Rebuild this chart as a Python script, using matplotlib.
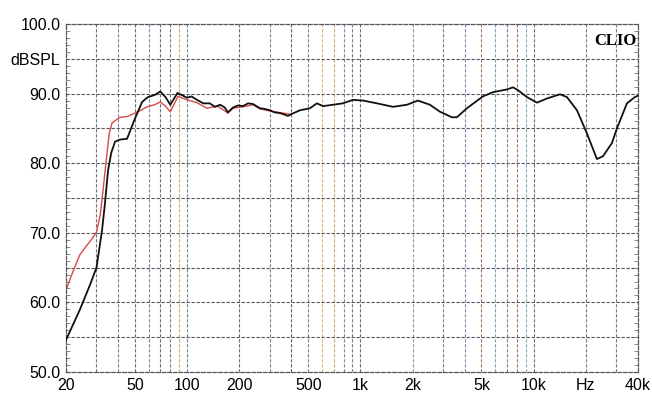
import matplotlib.pyplot as plt
import numpy as np

# black trace (frequency Hz, dBSPL)
black_f = [20, 24, 27.5, 30, 32.3, 33.5, 35, 36.5, 38.4, 41, 45, 50, 55, 59.4, 65, 70, 75,
           80, 88, 100, 106, 114, 124, 135, 145, 155, 165, 172, 184, 197, 210, 225, 240,
           263, 280, 301, 320, 344, 382, 403, 448, 512, 561, 608, 695, 793, 906, 1035,
           1247, 1542, 1858, 2148, 2518, 2878, 3374, 3606, 4120, 5098, 5821, 7012, 7592,
           8112, 9141, 10448, 11940, 14192, 15560, 17780, 20280, 23180, 25120, 28300,
           30240, 34540, 38380, 40000]
black_db = [54.6, 58.9, 62.5, 65.0, 70.4, 74.0, 79.0, 81.5, 83.1, 83.4, 83.5, 86.4, 88.8,
            89.5, 89.8, 90.3, 89.5, 88.4, 90.1, 89.4, 89.6, 89.1, 88.6, 88.6, 88.1, 88.4,
            88.0, 87.3, 88.0, 88.3, 88.2, 88.6, 88.5, 87.9, 87.8, 87.6, 87.3, 87.2, 86.8,
            87.1, 87.6, 87.9, 88.6, 88.2, 88.4, 88.6, 89.1, 89.0, 88.6, 88.1, 88.4, 89.0,
            88.4, 87.4, 86.6, 86.6, 87.9, 89.6, 90.2, 90.6, 90.9, 90.5, 89.5, 88.7, 89.3,
            89.9, 89.5, 87.6, 84.3, 80.6, 81.0, 82.9, 85.0, 88.6, 89.5, 89.7]

# red trace, visible only below ~400 Hz (hidden under black above)
red_f = [20, 22, 24, 26, 28, 30, 31.5, 32.7, 34, 35.5, 36.9, 41, 45, 50, 55, 58.7, 65,
         70, 75, 80, 88.6, 100, 114, 130, 150, 172, 184, 210, 240, 263, 301, 400]
red_db = [61.8, 64.5, 66.8, 68.0, 69.0, 70.1, 72.5, 76.0, 80.0, 84.2, 85.8, 86.6, 86.7,
          87.2, 87.7, 88.1, 88.4, 88.8, 88.2, 87.4, 89.6, 89.1, 88.7, 87.9, 88.2, 87.2,
          87.9, 88.1, 88.4, 87.8, 87.5, 87.0]

xtick_vals = [20, 50, 100, 200, 500, 1000, 2000, 5000, 10000, 20000, 40000]
xtick_text = ['20', '50', '100', '200', '500', '1k', '2k', '5k', '10k', 'Hz', '40k']
ytick_vals = [50, 60, 70, 80, 90, 95, 100]
ytick_text = ['50.0', '60.0', '70.0', '80.0', '90.0', 'dBSPL', '100.0']

grid_f = [30, 40, 50, 60, 70, 80, 90, 100, 200, 300, 400, 500, 600, 700, 800, 900, 1000,
          2000, 3000, 4000, 5000, 6000, 7000, 8000, 9000, 10000, 20000, 30000]
grid_c = ['#76707a', '#78849a', '#6e6e76', '#7c8ca8', '#6e6e78', '#8a7478', '#d0b060',
          '#78849a', '#6e6e78', '#78849a', '#62626c', '#7a84a0', '#d6bc6a', '#cfa672',
          '#7c8cb0', '#8c7480', '#6e6e78', '#b49478', '#957880', '#7c8cb4', '#957880',
          '#84a0c0', '#7c88a8', '#957880', '#88a8c8', '#6e6e78', '#8c7478', '#8c7478']

plt.rcParams['font.family'] = ['Liberation Sans', 'DejaVu Sans']

fig = plt.figure(figsize=(6.52, 3.96), dpi=100)
ax = fig.add_axes([0.1012, 0.0606, 0.8773, 0.8788])

for f, c in zip(grid_f, grid_c):
    ax.axvline(f, color=c, lw=0.8, ls=(0, (3, 1.5)), zorder=1)
for y in range(55, 100, 5):
    ax.axhline(y, color='#55555e', lw=0.8, ls=(0, (3, 1.5)), zorder=1)

ax.plot(red_f, red_db, color='#d84a4a', lw=1.0, zorder=2)
ax.plot(black_f, black_db, color='#111111', lw=1.3, zorder=3)

ax.set_xscale('log')
ax.set_xlim(20, 40000)
ax.set_ylim(50, 100)
ax.set_xticks(xtick_vals)
ax.set_xticklabels(xtick_text)
ax.xaxis.set_minor_locator(plt.NullLocator())
ax.set_yticks(ytick_vals)
ax.set_yticklabels(ytick_text)
ax.set_yticks(np.arange(50, 101, 1), minor=True)
ax.tick_params(axis='both', which='major', length=0, labelsize=11.5, pad=4)
ax.tick_params(axis='y', which='minor', direction='in', length=3, color='#777777',
               left=True, right=True)

for s in ax.spines.values():
    s.set_color('#55555e')
    s.set_linewidth(0.9)
    s.set_linestyle((0, (3, 1.5)))

ax.text(0.997, 0.975, 'CLIO', transform=ax.transAxes, ha='right', va='top',
        fontsize=12, fontweight='bold', family='Liberation Serif')

fig.savefig('out.png', dpi=100)
